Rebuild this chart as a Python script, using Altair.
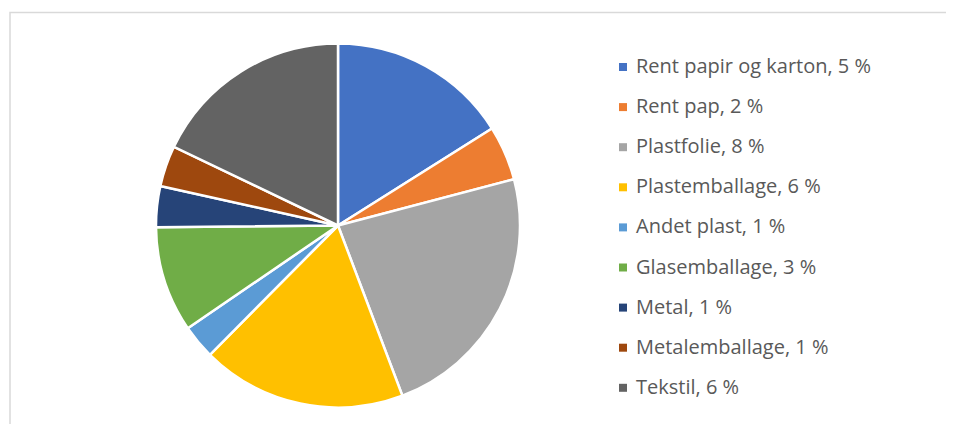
import altair as alt
import pandas as pd

categories = [
    "Rent papir og karton, 5 %",
    "Rent pap, 2 %",
    "Plastfolie, 8 %",
    "Plastemballage, 6 %",
    "Andet plast, 1 %",
    "Glasemballage, 3 %",
    "Metal, 1 %",
    "Metalemballage, 1 %",
    "Tekstil, 6 %",
]
values = [5.3, 1.6, 7.7, 6.0, 1.0, 3.1, 1.2, 1.2, 5.9]
colors = ["#4472C4", "#ED7D31", "#A5A5A5", "#FFC000", "#5B9BD5",
          "#70AD47", "#264478", "#9E480E", "#636363"]

df = pd.DataFrame({"kategori": categories, "andel": values,
                   "orden": list(range(len(categories)))})

border = alt.Chart(pd.DataFrame({"a": [0]})).mark_rect(
    fill=None, stroke="#D9D9D9", strokeWidth=1.5
).encode(
    x=alt.value(2), y=alt.value(4.5), x2=alt.value(1000), y2=alt.value(500)
)

pie = alt.Chart(df).mark_arc(radius=182, stroke="white", strokeWidth=2.5).encode(
    theta=alt.Theta("andel:Q", stack=True),
    order=alt.Order("orden:Q"),
    color=alt.Color(
        "kategori:N",
        scale=alt.Scale(domain=categories, range=colors),
        legend=alt.Legend(
            title=None, orient="none", legendX=605, legendY=49,
            symbolType="square", symbolSize=64, symbolStrokeWidth=0,
            labelFont="Open Sans", labelFontSize=20, labelColor="#595959",
            labelOffset=3, rowPadding=20.1, padding=0, labelLimit=400,
        ),
    ),
    x=alt.value(330),
    y=alt.value(217.5),
)

chart = alt.layer(border, pie).properties(
    width=938, height=416, autosize=alt.AutoSizeParams(type="none"), padding=0
).configure_view(stroke=None)

chart.save("out.html", embed_options={"renderer": "svg", "actions": False})
